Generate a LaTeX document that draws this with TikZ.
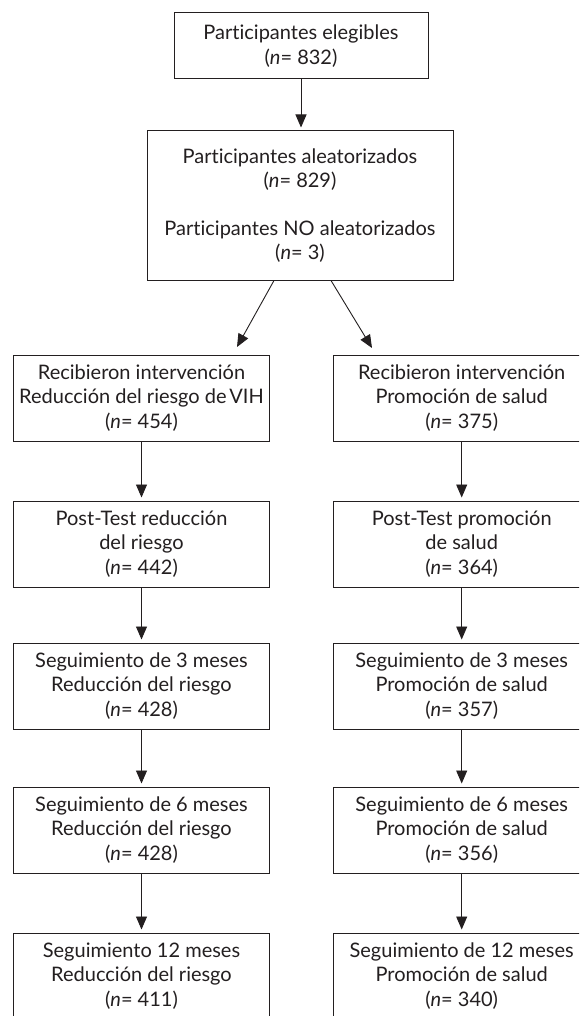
\documentclass[tikz,border=0pt]{standalone}
\usepackage{fontspec}
\setmainfont{Lato}[Ligatures={NoCommon}]
\usetikzlibrary{arrows.meta}
\definecolor{ink}{HTML}{231F20}
\begin{document}
\begin{tikzpicture}[x=1pt,y=-1pt,
  box/.style={draw=ink, line width=1pt, minimum width=256pt, minimum height=86pt,
    inner sep=0pt, align=center, text=ink, font=\fontsize{20}{24.5}\selectfont},
  arr/.style={draw=ink, line width=0.9pt, shorten >=3pt, -{Triangle[length=13pt,width=11pt]}}]
\clip (0,0) rectangle (579,1016);
\fill[white] (0,0) rectangle (579,1016);
% top
\node[box, minimum width=254pt, minimum height=66pt] (elig) at (301,46)
  {Participantes elegibles\\(\textit{n}= 832)};
\node[box, minimum width=306pt, minimum height=149pt] (alea) at (300,205.5)
  {Participantes aleatorizados\\(\textit{n}= 829)\\[23pt]Participantes NO aleatorizados\\(\textit{n}= 3)};
% left column
\node[box] (l1) at (141.5,398) {Recibieron intervención\\Reducción del riesgo de\kern-0.12em\ VIH\\(\textit{n}= 454)};
\node[box] (l2) at (141.5,544) {Post-Test reducción\\del riesgo\\(\textit{n}= 442)};
\node[box] (l3) at (141.5,686) {Seguimiento de 3 meses\\Reducción del riesgo\\(\textit{n}= 428)};
\node[box] (l4) at (141.5,830) {Seguimiento de 6 meses\\Reducción del riesgo\\(\textit{n}= 428)};
\node[box] (l5) at (141.5,976) {Seguimiento 12 meses\\Reducción del riesgo\\(\textit{n}= 411)};
% right column
\node[box] (r1) at (461.7,398) {Recibieron intervención\\Promoción de salud\\(\textit{n}= 375)};
\node[box] (r2) at (461.7,544) {Post-Test promoción\\de salud\\(\textit{n}= 364)};
\node[box] (r3) at (461.7,686) {Seguimiento de 3 meses\\Promoción de salud\\(\textit{n}= 357)};
\node[box] (r4) at (461.7,830) {Seguimiento de 6 meses\\Promoción de salud\\(\textit{n}= 356)};
\node[box] (r5) at (461.7,976) {Seguimiento de 12 meses\\Promoción de salud\\(\textit{n}= 340)};
% connectors
\draw[arr] (elig.south) -- (elig.south |- alea.north);
\coordinate (dl) at (237,347);
\coordinate (dr) at (372,348);
\draw[arr, shorten >=0pt] ([xshift=-26pt]alea.south) -- (dl);
\draw[arr, shorten >=0pt] ([xshift=31pt]alea.south) -- (dr);
\foreach \a/\b in {l1/l2,l2/l3,l3/l4,l4/l5,r1/r2,r2/r3,r3/r4,r4/r5}
  \draw[arr] (\a) -- (\b);
\end{tikzpicture}
\end{document}
